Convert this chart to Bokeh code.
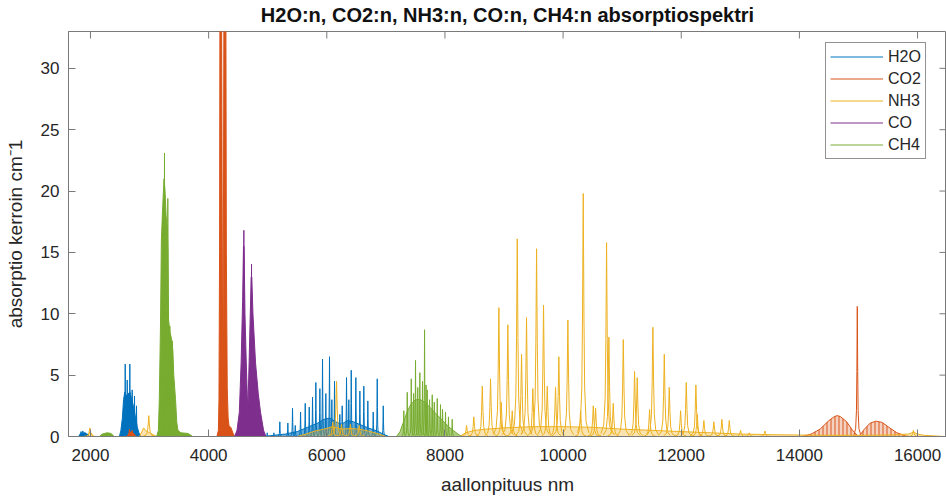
import math
from bokeh.plotting import figure
from bokeh.models import FixedTicker, Legend, LegendItem, Range1d
from bokeh.embed import file_html
from bokeh.resources import INLINE

# ---------------- data ----------------
title_text = "H2O:n, CO2:n, NH3:n, CO:n, CH4:n absorptiospektri"
x_ticks = [2000, 4000, 6000, 8000, 10000, 12000, 14000, 16000]
y_ticks = [0, 5, 10, 15, 20, 25, 30]
x_limits = [1628, 16490]
y_limits = [0, 33]
series_names = ["H2O", "CO2", "NH3", "CO", "CH4"]

# H2O
h2o_band1_nm = [1630, 1800, 1830, 1870, 1910, 1950, 1980]
h2o_band1_abs = [0, 0, 0.25, 0.3, 0.25, 0.2, 0]
h2o_band2_nm = [2490, 2515, 2540, 2560, 2580, 2600, 2640, 2670, 2700, 2730, 2760, 2790, 2820, 2850]
h2o_band2_abs = [0, 0.5, 1.5, 3.0, 3.6, 3.3, 3.5, 3.6, 3.0, 2.4, 1.6, 0.8, 0.3, 0]
h2o_band3_nm = [4950, 5100, 5300, 5500, 5700, 5850, 5950, 6050, 6150, 6250, 6350, 6450, 6550, 6700, 6850, 6950, 7050, 16450]
h2o_band3_abs = [0, 0.1, 0.2, 0.4, 0.8, 1.1, 1.4, 1.5, 1.2, 1.0, 1.3, 1.2, 1.0, 0.7, 0.45, 0.2, 0, 0]
h2o_peak_nm = [1840, 1870, 1905, 2588, 2622, 2666, 2706, 2745, 2779, 4992, 5104, 5205, 5341,
               5420, 5466, 5556, 5635, 5703, 5759, 5815, 5883, 5928, 5984, 6046, 6086, 6131,
               6221, 6261, 6334, 6373, 6414, 6492, 6560, 6627, 6695, 6786, 6854, 6956]
h2o_peak_abs = [0.4, 0.45, 0.35, 5.9, 4.6, 5.9, 3.8, 3.3, 2.5, 0.3, 0.3, 1.2, 1.1,
                2.3, 0.9, 2.0, 2.7, 2.4, 3.2, 4.4, 3.9, 6.3, 3.5, 6.5, 3.0, 4.5,
                1.8, 2.5, 4.8, 3.0, 5.4, 4.8, 3.7, 4.1, 2.9, 2.0, 4.7, 2.5]

# CO2
co2_band1_nm = [1630, 2620, 2660, 2700, 2740, 2770]
co2_band1_abs = [0, 0, 0.3, 0.35, 0.2, 0]
co2_band2_nm = [4140, 4165, 4175, 4185, 4193, 4215, 4228, 4240, 4252, 4262, 4290, 4300,
                4315, 4330, 4345, 4380, 4410, 4440]
co2_band2_abs = [0, 0.5, 3, 15, 40, 42, 20, 3, 20, 42, 40, 15, 4, 1.5, 0.9, 0.7, 0.3, 0]
co2_comb_nm = [14050, 14200, 14350, 14500, 14600, 14650, 14700, 14800, 14900, 14960, 15000,
               15040, 15100, 15200, 15300, 15400, 15500, 15650, 15800, 15850, 16450]
co2_comb_abs = [0, 0.2, 0.6, 1.3, 1.65, 1.7, 1.6, 1.2, 0.5, 0.2, 0,
                0.2, 0.6, 1.1, 1.25, 1.15, 0.8, 0.3, 0.05, 0, 0]
co2_peak_nm = [2660, 2705, 14980]
co2_peak_abs = [0.6, 0.5, 10.6]

# NH3
nh3_band_nm = [1630, 1950, 1985, 2010, 2050, 2830, 2870, 2900, 2930, 2960, 3000, 3060, 3120,
               5500, 5650, 5800, 5950, 6100, 6250, 6400, 6550, 6700, 6850, 7000,
               8250, 8350, 8500, 8700, 9000, 9500, 10000, 10500, 11000, 11500, 12000,
               12500, 13000, 13500, 14000, 14500, 15000, 15500, 15850, 15930, 16000, 16100, 16450]
nh3_band_abs = [0, 0, 0.35, 0.3, 0, 0, 0.4, 0.7, 0.5, 0.4, 0.3, 0.15, 0,
                0, 0.2, 0.45, 0.6, 0.8, 0.6, 0.65, 0.6, 0.45, 0.25, 0,
                0, 0.3, 0.5, 0.6, 0.7, 0.8, 0.8, 0.75, 0.6, 0.5, 0.4,
                0.3, 0.2, 0.15, 0.12, 0.1, 0.1, 0.12, 0.2, 0.35, 0.2, 0.1, 0]
nh3_peak_nm = [1989, 2987, 6100, 6165, 6250, 6400, 6550,
               8366, 8489, 8632, 8772, 8913, 8953, 9065, 9139, 9224, 9297, 9381, 9488,
               9551, 9669, 9732, 9872, 9928, 10081, 10296, 10341, 10511, 10550, 10736,
               10775, 10849, 11019, 11210, 11255, 11464, 11520, 11713, 11797, 11989,
               12085, 12248, 12271, 12383, 12552, 12688, 12813, 13004, 13152, 13416, 15930]
nh3_peak_abs = [0.7, 1.7, 1.2, 4.5, 1.0, 1.0, 0.9,
                0.9, 1.6, 4.1, 4.7, 10.5, 2.8, 9.1, 2.1, 16.1, 6.7, 9.7, 3.9,
                15.3, 10.7, 4.1, 4.0, 6.5, 9.5, 2.1, 19.8, 2.5, 2.3, 15.8,
                8.1, 2.7, 7.9, 5.3, 4.8, 2.2, 8.9, 6.7, 4.0, 2.1,
                4.4, 4.2, 1.8, 1.3, 1.2, 1.4, 1.3, 0.5, 0.3, 0.45, 0.5]

# CO
co_band_nm = [1630, 4440, 4480, 4520, 4550, 4575, 4590, 4600, 4615, 4640, 4663, 4685, 4705,
              4720, 4730, 4750, 4794, 4840, 4878, 4930, 4970, 16450]
co_band_abs = [0, 0, 0.5, 2.0, 6.0, 11.0, 15.5, 15.5, 10.0, 5.5, 2.0, 6.0, 10.0,
               13.0, 13.0, 10.0, 6.0, 3.5, 2.0, 0.5, 0, 0]
co_peak_nm = [4596, 4726]
co_peak_abs = [16.8, 14.05]

# CH4
ch4_band1_nm = [1630, 2150, 2200, 2280, 2350, 2400, 3120, 3150, 3165, 3185, 3200, 3225, 3245,
                3262, 3280, 3300, 3312, 3322, 3345, 3370, 3395, 3410, 3440, 3460, 3480,
                3530, 3650, 3700, 3730]
ch4_band1_abs = [0, 0, 0.2, 0.3, 0.25, 0, 0, 0.5, 3, 9, 16, 19, 21,
                 20, 18, 17, 15, 9.5, 8.5, 8, 7, 5, 3, 1.2, 0.5,
                 0.3, 0.25, 0.1, 0]
ch4_band2_nm = [7180, 7240, 7300, 7360, 7420, 7500, 7580, 7660, 7740, 7820, 7900, 7980,
                8060, 8140, 8220, 8280, 16450]
ch4_band2_abs = [0, 0.4, 1.2, 2.0, 2.6, 3.0, 3.0, 2.8, 2.4, 2.0, 1.6, 1.2,
                 0.8, 0.5, 0.2, 0, 0]
ch4_peak_nm = [3230, 3253, 3270, 3309, 3343, 3383, 7304, 7362, 7430, 7470, 7502, 7540,
               7575, 7620, 7655, 7680, 7700, 7740, 7785, 7820, 7870, 7925, 7960, 8010,
               8060, 8123]
ch4_peak_abs = [18, 23.1, 17, 19.4, 9.0, 7.8, 2.1, 3.6, 4.7, 3.5, 6.2, 4.0,
                5.2, 4.5, 8.7, 4.2, 3.8, 3.0, 3.4, 2.8, 3.1, 2.6, 2.2, 2.0,
                1.6, 1.4]

# ---------------- styling ----------------
C_H2O, C_CO2, C_NH3, C_CO, C_CH4 = "#0072BD", "#D95319", "#EDB120", "#7E2F8E", "#77AC30"
TXT = "#262626"
AXC = "#7a7a7a"
FONT = "Liberation Sans"

# line-shape profile of one absorption line (offsets in half-widths, relative height)
PROFILE_OFF = [-8, -4, -2, -1, 0, 1, 2, 4, 8]
PROFILE_FRAC = [0.015, 0.06, 0.2, 0.5, 1.0, 0.5, 0.2, 0.06, 0.015]


def line_shapes(nm, ab, hw):
    xs = [[x + o * hw for o in PROFILE_OFF] for x in nm]
    ys = [[h * f for f in PROFILE_FRAC] for h in ab]
    return xs, ys


p = figure(width=946, height=497, x_range=Range1d(*x_limits), y_range=Range1d(*y_limits),
           output_backend="svg", toolbar_location=None,
           min_border_left=68, min_border_right=0, min_border_top=31, min_border_bottom=60,
           title=title_text)
p.title.align = "center"
p.title.vertical_align = "top"
p.title.text_font = FONT
p.title.text_font_size = "20px"
p.title.text_font_style = "bold"
p.title.text_color = "#111111"
p.title.standoff = 7
p.grid.visible = False
p.outline_line_color = AXC
p.background_fill_color = "white"
p.border_fill_color = "white"

for ax, tk in ((p.xaxis[0], x_ticks), (p.yaxis[0], y_ticks)):
    ax.ticker = FixedTicker(ticks=tk, minor_ticks=[])
    ax.major_tick_in = 7
    ax.major_tick_out = 0
    ax.minor_tick_in = 0
    ax.minor_tick_out = 0
    ax.axis_line_color = AXC
    ax.major_tick_line_color = AXC
    ax.major_label_text_font = FONT
    ax.major_label_text_color = TXT
    ax.major_label_text_font_size = "17px"
    ax.major_label_text_line_height = 1.0
    ax.axis_label_text_font = FONT
    ax.axis_label_text_color = TXT
    ax.axis_label_text_font_style = "normal"
    ax.axis_label_text_font_size = "19px"
    ax.axis_label_text_line_height = 0.95

p.xaxis.axis_label = "aallonpituus nm"
p.yaxis.axis_label = "absorptio kerroin cm\u207b1"
p.xaxis.major_label_standoff = 12
p.yaxis.major_label_standoff = 9
p.xaxis.axis_label_standoff = 10
p.yaxis.axis_label_standoff = 12

# inward ticks on the top and right edges of the box
p.scatter(x=x_ticks, y=[y_limits[1]] * len(x_ticks), marker="dash", size=14,
          angle=math.pi / 2, line_color=AXC, line_width=1)
p.scatter(x=[x_limits[1]] * len(y_ticks), y=y_ticks, marker="dash", size=14,
          line_color=AXC, line_width=1)

legend_renderers = []

# H2O
for bx, by, a in [(h2o_band1_nm, h2o_band1_abs, 1.0), (h2o_band2_nm, h2o_band2_abs, 1.0),
                  (h2o_band3_nm, h2o_band3_abs, 0.6)]:
    p.varea(x=bx, y1=0, y2=by, fill_color=C_H2O, fill_alpha=a)
r = p.line(h2o_band1_nm + h2o_band2_nm + h2o_band3_nm,
           h2o_band1_abs + h2o_band2_abs + h2o_band3_abs, line_color=C_H2O, line_width=1)
legend_renderers.append(r)
xs, ys = line_shapes(h2o_peak_nm, h2o_peak_abs, 4)
p.multi_line(xs, ys, line_color=C_H2O, line_width=1)

# CO2
p.varea(x=co2_band1_nm, y1=0, y2=co2_band1_abs, fill_color=C_CO2)
p.varea(x=co2_band2_nm, y1=0, y2=co2_band2_abs, fill_color=C_CO2)
p.varea(x=co2_comb_nm, y1=0, y2=co2_comb_abs, fill_color="#f5d2c0",
        hatch_pattern="vertical_line", hatch_color=C_CO2, hatch_scale=4, hatch_weight=1)
r = p.line(co2_band1_nm + co2_band2_nm + co2_comb_nm,
           co2_band1_abs + co2_band2_abs + co2_comb_abs, line_color=C_CO2, line_width=1)
legend_renderers.append(r)
xs, ys = line_shapes(co2_peak_nm, co2_peak_abs, 7)
p.multi_line(xs, ys, line_color=C_CO2, line_width=1)

# NH3
p.varea(x=nh3_band_nm, y1=0, y2=nh3_band_abs, fill_color=C_NH3, fill_alpha=0.35)
r = p.line(nh3_band_nm, nh3_band_abs, line_color=C_NH3, line_width=1)
legend_renderers.append(r)
xs, ys = line_shapes(nh3_peak_nm, nh3_peak_abs, 12)
p.multi_line(xs, ys, line_color=C_NH3, line_width=1)

# CO
p.varea(x=co_band_nm, y1=0, y2=co_band_abs, fill_color=C_CO)
r = p.line(co_band_nm, co_band_abs, line_color=C_CO, line_width=1)
legend_renderers.append(r)
xs, ys = line_shapes(co_peak_nm, co_peak_abs, 4)
p.multi_line(xs, ys, line_color=C_CO, line_width=1)

# CH4
p.varea(x=ch4_band1_nm, y1=0, y2=ch4_band1_abs, fill_color=C_CH4)
p.varea(x=ch4_band2_nm, y1=0, y2=ch4_band2_abs, fill_color=C_CH4, fill_alpha=0.6)
r = p.line(ch4_band1_nm + ch4_band2_nm, ch4_band1_abs + ch4_band2_abs,
           line_color=C_CH4, line_width=1)
legend_renderers.append(r)
xs, ys = line_shapes(ch4_peak_nm, ch4_peak_abs, 4)
p.multi_line(xs, ys, line_color=C_CH4, line_width=1)

legend = Legend(items=[LegendItem(label=n, renderers=[rr]) for n, rr in zip(series_names, legend_renderers)],
                location=(757, 277), margin=0, padding=4, spacing=3,
                glyph_width=53, glyph_height=19, label_height=19, label_standoff=5,
                label_text_font=FONT, label_text_font_size="16px", label_text_color=TXT,
                border_line_color="#262626", border_line_width=1,
                background_fill_color="white", background_fill_alpha=1)
p.add_layout(legend)

open("out.html", "w").write(file_html(p, INLINE))
